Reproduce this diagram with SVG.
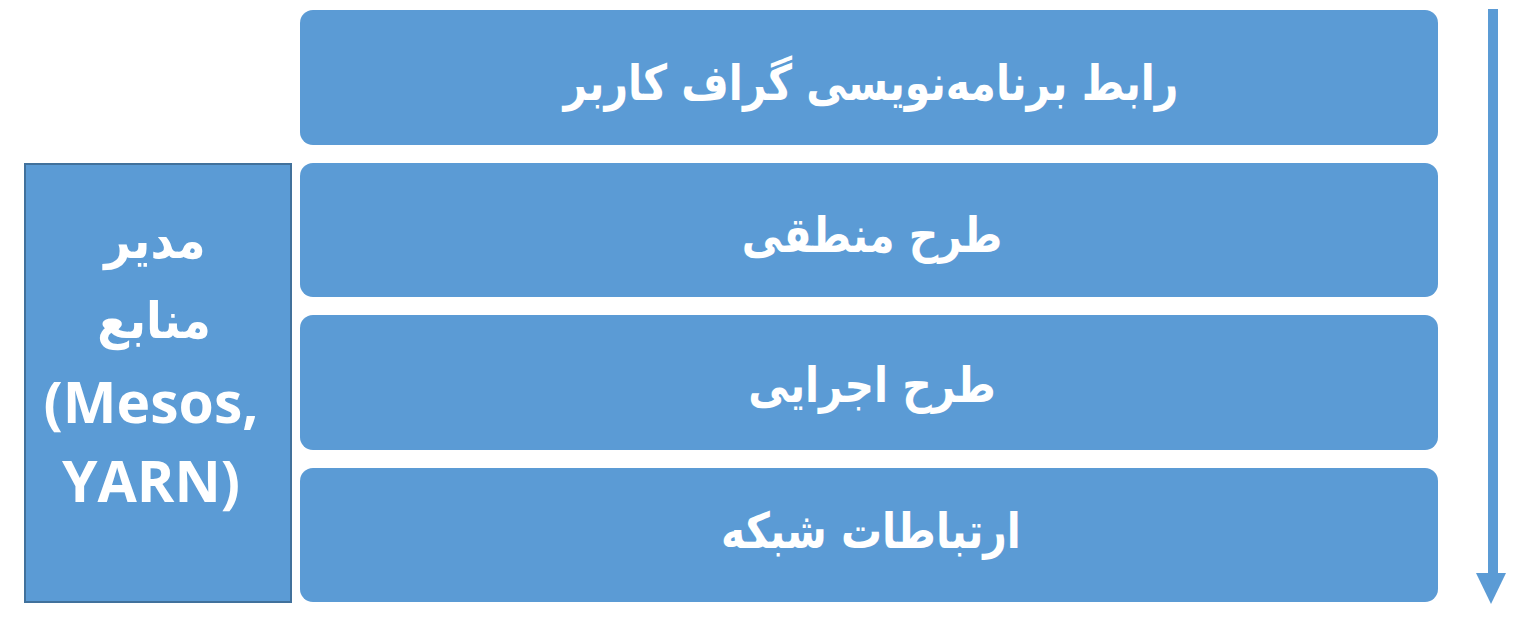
<svg xmlns="http://www.w3.org/2000/svg" width="1522" height="635" viewBox="0 0 1522 635">
<defs>
<style>
.layer{fill:#5B9BD5;}
.side{fill:#5B9BD5;stroke:#41719C;stroke-width:2;}
.ar{font-family:"DejaVu Sans","Noto Sans",sans-serif;font-weight:bold;font-size:44px;fill:#FFFFFF;text-anchor:middle;direction:rtl;}
.lat{font-family:"Open Sans","Noto Sans",sans-serif;font-weight:bold;font-size:57px;fill:#FFFFFF;text-anchor:middle;}
.conn{stroke:#5B9BD5;stroke-width:10;fill:none;}
.head{fill:#5B9BD5;}
</style>
</defs>
<rect width="1522" height="635" fill="#FFFFFF"/>
<g id="connectors">
<line class="conn" x1="1493" y1="9" x2="1493" y2="576"/>
<polygon class="head" points="1476,573 1506,573 1491,604"/>
</g>
<g id="node-api">
<rect class="layer" x="300" y="10" width="1138" height="135" rx="13"/>
<text class="ar" transform="translate(871,100) scale(0.93,1.12)">رابط برنامه‌نویسی گراف کاربر</text>
</g>
<g id="node-logical">
<rect class="layer" x="300" y="163" width="1138" height="134" rx="13"/>
<text class="ar" transform="translate(872,252) scale(0.93,1.12)">طرح منطقی</text>
</g>
<g id="node-execution">
<rect class="layer" x="300" y="315" width="1138" height="135" rx="13"/>
<text class="ar" transform="translate(872,402) scale(0.93,1.12)">طرح اجرایی</text>
</g>
<g id="node-network">
<rect class="layer" x="300" y="468" width="1138" height="134" rx="13"/>
<text class="ar" transform="translate(871,548) scale(0.93,1.12)">ارتباطات شبکه</text>
</g>
<g id="node-resource">
<rect class="side" x="25" y="164" width="266" height="438"/>
<text class="ar" transform="translate(155,258) scale(1.05,1.15)">مدیر</text>
<text class="ar" transform="translate(154,338) scale(1.05,1.15)">منابع</text>
<text class="lat" x="151" y="423">(Mesos,</text>
<text class="lat" x="151" y="502">YARN)</text>
</g>
</svg>
